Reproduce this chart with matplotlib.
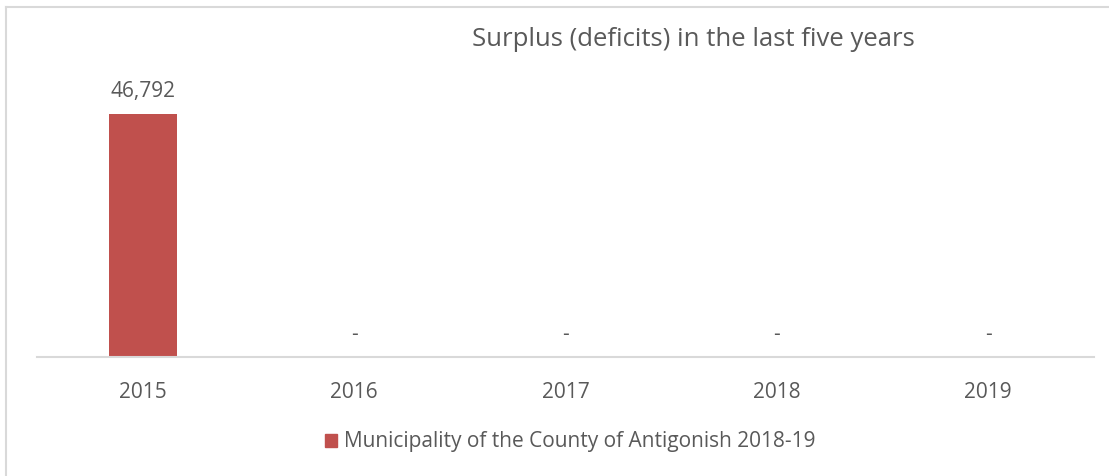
import matplotlib.pyplot as plt
from matplotlib.lines import Line2D

years = ['2015', '2016', '2017', '2018', '2019']
surplus = [46792, 0, 0, 0, 0]
series_name = 'Municipality of the County of Antigonish 2018-19'
title = 'Surplus (deficits) in the last five years'

W, H = 1109, 476
plt.rcParams['font.family'] = ['Open Sans', 'DejaVu Sans']
text_color = '#595959'
bar_color = '#C0504D'
fs = 15

fig = plt.figure(figsize=(W / 100, H / 100), dpi=100)
fig.patch.set_facecolor('white')

# axes box in pixel terms: x 37..1094, baseline at y=357
ymax = 60000
top_px = 357 - 243 * ymax / surplus[0]
ax = fig.add_axes([37 / W, (H - 357) / H, 1057 / W, (357 - top_px) / H])

x = range(len(years))
ax.bar(x, surplus, width=0.32, color=bar_color, zorder=2)
ax.set_xlim(-0.5, len(years) - 0.5)
ax.set_ylim(0, ymax)

for xi, v in zip(x, surplus):
    label = f'{v:,}' if v else '-'
    ax.annotate(label, (xi, v), xytext=(0, 12), textcoords='offset pixels',
                ha='center', va='bottom', fontsize=fs, color=text_color)

for s in ['top', 'right', 'left']:
    ax.spines[s].set_visible(False)
ax.spines['bottom'].set_color('#D9D9D9')
ax.spines['bottom'].set_linewidth(1.5)
ax.set_yticks([])
ax.set_xticks(list(x))
ax.set_xticklabels(years, fontsize=fs, color=text_color)
ax.tick_params(axis='x', length=0, pad=18)

fig.text(693 / W, 1 - 39 / H, title, ha='center', va='center',
         fontsize=18.5, color=text_color)

handle = plt.Rectangle((0, 0), 1, 1, color=bar_color)
fig.legend([handle], [series_name], loc='center', bbox_to_anchor=(570 / W, 1 - 442 / H),
           frameon=False, handlelength=0.6, handleheight=0.6, handletextpad=0.3,
           prop={'size': fs}, labelcolor=text_color)

# outer chart frame, left and top edges only
fig.add_artist(Line2D([6 / W, 6 / W], [0, 1 - 7 / H], transform=fig.transFigure,
                      color='#D9D9D9', lw=1.5))
fig.add_artist(Line2D([6 / W, 1], [1 - 7 / H, 1 - 7 / H], transform=fig.transFigure,
                      color='#D9D9D9', lw=1.5))

fig.savefig('out.png', dpi=100)
